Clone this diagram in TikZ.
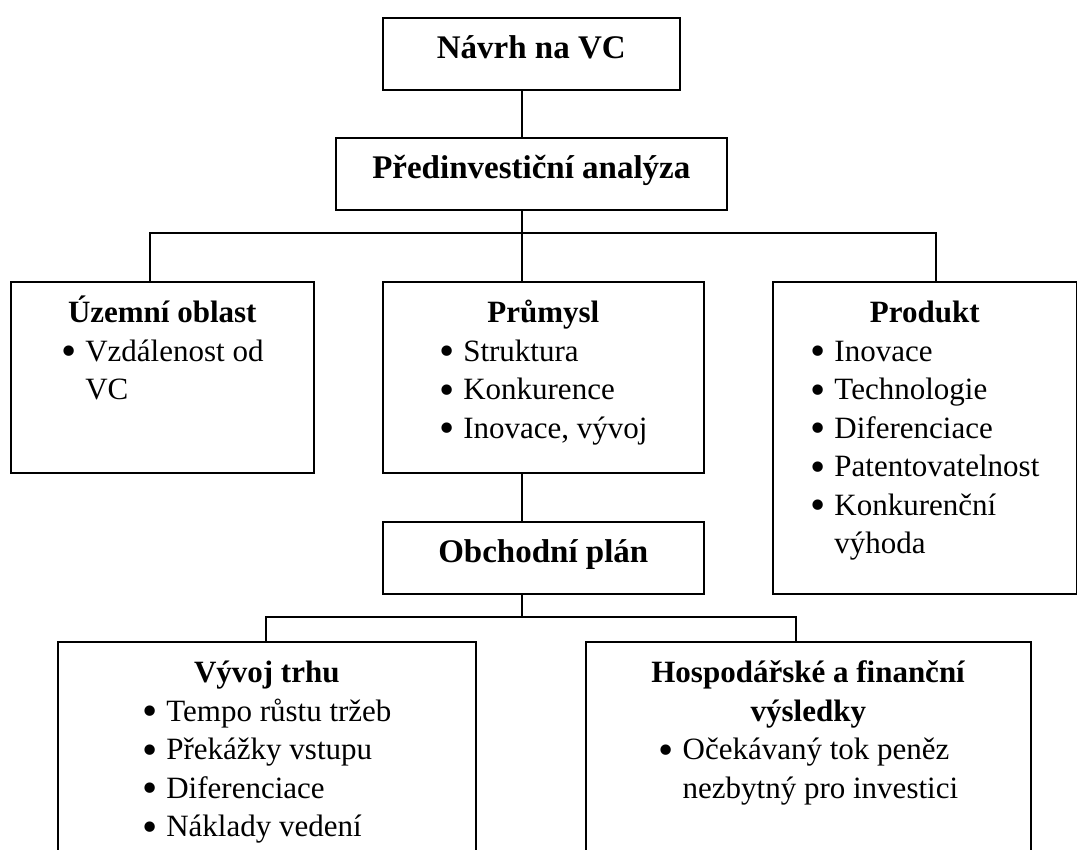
\documentclass[tikz,border=0pt]{standalone}
\usepackage{fontspec}
\setmainfont{Liberation Serif}
\newcommand{\boxtext}[3]{\begin{minipage}[c][#2pt][t]{#1pt}\centering\rule{0pt}{41pt}#3\end{minipage}}
\newcommand{\bul}{\raisebox{-0.14em}{\scalebox{1.4}{\textbullet}}\hspace{9pt}}
\newcommand{\ind}{\phantom{\bul}}

\begin{document}
\begin{tikzpicture}[x=1pt, y=-1pt,
    box/.style={draw, line width=1.6pt, inner sep=0pt, anchor=north west,
        font=\fontsize{31}{38.5}\selectfont},
    headbox/.style={box, font=\fontsize{33}{38.5}\selectfont\bfseries},
    link/.style={line width=1.6pt}]
    \useasboundingbox (0,0) rectangle (1077,850);
    \clip (0,0) rectangle (1077,850);

    \node[headbox] (navrh) at (382,17) {\boxtext{297}{72}{N\'avrh na VC}};
    \node[headbox] (analyza) at (335,137) {\boxtext{391}{72}{P\v{r}edinvesti\v{c}n\'i anal\'yza}};

    \node[box] (uzemni) at (10,281) {\boxtext{303}{191}{%
        \textbf{\'Uzemn\'i oblast}\\
        \begin{tabular}[t]{@{}l@{}}
            \bul Vzd\'alenost od\\
            \ind VC
        \end{tabular}}};
    \node[box] (prumysl) at (382,281) {\boxtext{321}{191}{%
        \textbf{Pr\r{u}mysl}\\
        \begin{tabular}[t]{@{}l@{}}
            \bul Struktura\\
            \bul Konkurence\\
            \bul Inovace, v\'yvoj
        \end{tabular}}};
    \node[box] (produkt) at (772,281) {\boxtext{304}{312}{%
        \textbf{Produkt}\\
        \begin{tabular}[t]{@{}l@{}}
            \bul Inovace\\
            \bul Technologie\\
            \bul Diferenciace\\
            \bul Patentovatelnost\\
            \bul Konkuren\v{c}n\'i\\
            \ind v\'yhoda
        \end{tabular}}};

    \node[headbox] (obchod) at (382,521) {\boxtext{321}{72}{Obchodn\'i pl\'an}};

    \node[box] (trh) at (57,641) {\boxtext{418}{260}{%
        \textbf{V\'yvoj trhu}\\
        \begin{tabular}[t]{@{}l@{}}
            \bul Tempo r\r{u}stu tr\v{z}eb\\
            \bul P\v{r}ek\'a\v{z}ky vstupu\\
            \bul Diferenciace\\
            \bul N\'aklady veden\'i
        \end{tabular}}};
    \node[box] (vysledky) at (585,641) {\boxtext{445}{260}{%
        \textbf{Hospod\'a\v{r}sk\'e a finan\v{c}n\'i}\\
        \textbf{v\'ysledky}\\
        \begin{tabular}[t]{@{}l@{}}
            \bul O\v{c}ek\'avan\'y tok pen\v{e}z\\
            \ind nezbytn\'y pro investici
        \end{tabular}}};

    \coordinate (spine) at (522,0);
    \coordinate (forkL) at (150,233);
    \coordinate (forkR) at (936,233);
    \coordinate (lowL) at (266,617);
    \coordinate (lowR) at (796,617);

    \draw[link] (navrh.south -| spine) -- (analyza.north -| spine);
    \draw[link] (analyza.south -| spine) -- (prumysl.north -| spine);
    \draw[link] (uzemni.north -| forkL) -- (forkL) -- (forkR) -- (produkt.north -| forkR);
    \draw[link] (prumysl.south -| spine) -- (obchod.north -| spine);
    \draw[link] (obchod.south -| spine) -- (spine |- lowL);
    \draw[link] (trh.north -| lowL) -- (lowL) -- (lowR) -- (vysledky.north -| lowR);
\end{tikzpicture}
\end{document}
